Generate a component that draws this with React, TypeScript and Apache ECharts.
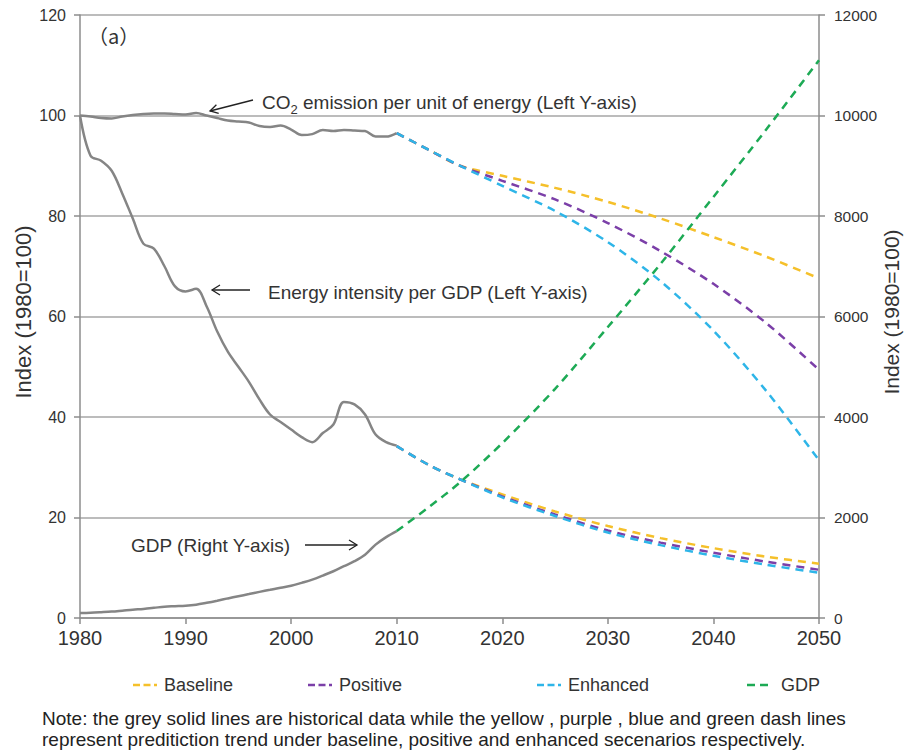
import React, { useEffect, useRef } from "react";
import * as echarts from "echarts";

const histYears = [1980, 1981, 1982, 1983, 1984, 1985, 1986, 1987, 1988, 1989, 1990, 1991, 1992, 1993, 1994, 1995, 1996, 1997, 1998, 1999, 2000, 2001, 2002, 2003, 2004, 2005, 2006, 2007, 2008, 2009, 2010];
const histCO2 = [100, 99.8, 99.5, 99.4, 99.8, 100.1, 100.3, 100.4, 100.4, 100.3, 100.2, 100.5, 100.0, 99.5, 99.0, 98.8, 98.6, 97.9, 97.7, 98.0, 97.2, 96.1, 96.3, 97.1, 96.9, 97.1, 97.0, 96.9, 95.8, 95.8, 96.5];
const histEI = [100, 92, 91, 89, 84.5, 79.5, 74.5, 73.5, 70, 66, 65, 65.5, 62, 57, 53, 50, 47, 43.5, 40.5, 39, 37.5, 36, 35, 36.8, 38.5, 43, 42.5, 40.5, 36.5, 35, 34.3];
const histGDP = [100, 105, 115, 127, 146, 166, 181, 202, 225, 234, 243, 265, 303, 345, 390, 433, 476, 520, 561, 604, 640, 700, 765, 845, 930, 1030, 1130, 1260, 1460, 1610, 1730];

const fcYears = [2010, 2013, 2016, 2020, 2025, 2030, 2035, 2040, 2045, 2050];
const co2Baseline = [96.5, 93.2, 90.0, 88.0, 85.6, 82.8, 79.5, 75.8, 71.9, 67.6];
const co2Positive = [96.5, 93.2, 90.0, 87.0, 83.3, 78.6, 73.0, 66.5, 58.7, 49.4];
const co2Enhanced = [96.5, 93.2, 90.0, 86.0, 81.0, 74.8, 67.0, 57.2, 45.2, 31.4];
const eiBaseline = [34.2, 30.5, 27.6, 24.6, 21.2, 18.3, 15.9, 13.9, 12.2, 10.8];
const eiPositive = [34.2, 30.5, 27.6, 24.2, 20.6, 17.4, 15.0, 13.0, 11.2, 9.6];
const eiEnhanced = [34.2, 30.5, 27.6, 24.0, 20.3, 17.0, 14.5, 12.4, 10.6, 9.0];
const gdpForecast = [1730, 2200, 2700, 3480, 4560, 5790, 7050, 8380, 9720, 11100];

const legendNames = ["Baseline", "Positive", "Enhanced", "GDP"];
const axisTitle = "Index (1980=100)";
const noteLines = [
  "Note: the grey solid lines are historical data while the yellow , purple , blue and green dash lines",
  "represent preditiction trend under baseline, positive and enhanced secenarios respectively.",
];

const FONT = "'Liberation Sans', Arial, sans-serif";
const C_BASE = "#F5C02A";
const C_POS = "#7B3FA8";
const C_ENH = "#2EB5E8";
const C_GDP = "#1DAA55";
const C_HIST = "#858585";
const TXT = "#333333";

const pairs = (xs: number[], ys: number[]) => xs.map((x, i) => [x, ys[i]]);

export default function App() {
  const ref = useRef<HTMLDivElement>(null);
  useEffect(() => {
    document.body.style.margin = "0";
    if (!ref.current) return;
    const chart = echarts.init(ref.current, null, { renderer: "svg" });
    const hist = (name: string, data: number[], axis: number) => ({
      name,
      type: "line",
      yAxisIndex: axis,
      data: pairs(histYears, data),
      symbol: "none",
      smooth: 0.35,
      lineStyle: { color: C_HIST, width: 2.5 },
      z: 3,
    });
    const fc = (name: string, data: number[], color: string, axis: number, z: number) => ({
      name,
      type: "line",
      yAxisIndex: axis,
      data: pairs(fcYears, data),
      symbol: "none",
      smooth: 0.3,
      itemStyle: { color },
      lineStyle: { color, width: 2.5, type: [8, 6] },
      z,
    });
    const legendLefts = [128, 303, 532, 742];
    const dashIcon = "path://M0,0h7v2.5h-7z M10.5,0h7v2.5h-7z M21,0h3v2.5h-3z";
    const gdpIcon = "path://M0,0h8v2.5h-8z M13,0h8v2.5h-8z";
    const arrowStyle = { stroke: "#222", lineWidth: 1.3, fill: null };
    const noComma = (v: number) => String(v);
    chart.setOption({
      animation: false,
      backgroundColor: "#ffffff",
      textStyle: { fontFamily: FONT },
      grid: { left: 80, right: 86, top: 15, height: 603, outerBoundsMode: "none", containLabel: false },
      xAxis: {
        type: "value",
        min: 1980,
        max: 2050,
        interval: 10,
        axisLine: { show: true, lineStyle: { color: "#8C8C8C", width: 1.5 } },
        axisTick: { show: true, length: 6, lineStyle: { color: "#8C8C8C", width: 1.5 } },
        axisLabel: { fontSize: 20, color: TXT, margin: 10, fontFamily: FONT, formatter: noComma },
        splitLine: { show: false },
      },
      yAxis: [
        {
          type: "value",
          min: 0,
          max: 120,
          interval: 20,
          axisLine: { show: true, lineStyle: { color: "#8C8C8C", width: 1.5 } },
          axisTick: { show: true, length: 6, lineStyle: { color: "#8C8C8C", width: 1.5 } },
          axisLabel: { fontSize: 16, color: TXT, margin: 14, fontFamily: FONT, formatter: noComma },
          splitLine: { show: true, lineStyle: { color: "#A6A6A6", width: 1.5 } },
        },
        {
          type: "value",
          min: 0,
          max: 12000,
          interval: 2000,
          position: "right",
          axisLine: { show: true, lineStyle: { color: "#8C8C8C", width: 1.5 } },
          axisTick: { show: true, length: 6, lineStyle: { color: "#8C8C8C", width: 1.5 } },
          axisLabel: { fontSize: 15.5, color: TXT, margin: 15, fontFamily: FONT, formatter: noComma },
          splitLine: { show: false },
        },
      ],
      legend: legendNames.map((n, i) => ({
        data: [n],
        left: legendLefts[i],
        top: 671,
        icon: i === 3 ? gdpIcon : dashIcon,
        itemWidth: i === 3 ? 21 : 24,
        itemHeight: 2.5,
        itemGap: 0,
        selectedMode: false,
        textStyle: { fontSize: 18, color: TXT, fontFamily: FONT, padding: [0, 0, 0, i === 3 ? 8 : 2] },
      })),
      series: [
        hist("CO2 history", histCO2, 0),
        hist("Energy intensity history", histEI, 0),
        hist("GDP history", histGDP, 1),
        fc("Baseline", co2Baseline, C_BASE, 0, 4),
        fc("Positive", co2Positive, C_POS, 0, 5),
        fc("Enhanced", co2Enhanced, C_ENH, 0, 6),
        fc("Baseline", eiBaseline, C_BASE, 0, 4),
        fc("Positive", eiPositive, C_POS, 0, 5),
        fc("Enhanced", eiEnhanced, C_ENH, 0, 6),
        fc("GDP", gdpForecast, C_GDP, 1, 7),
      ],
      graphic: [
        {
          type: "text",
          x: 23,
          y: 312,
          rotation: Math.PI / 2,
          style: { text: axisTitle, fontSize: 22, fill: TXT, fontFamily: FONT, align: "center", verticalAlign: "middle" },
        },
        {
          type: "text",
          x: 891,
          y: 312,
          rotation: Math.PI / 2,
          style: { text: axisTitle, fontSize: 21, fill: TXT, fontFamily: FONT, align: "center", verticalAlign: "middle" },
        },
        {
          type: "text",
          x: 88,
          y: 35,
          style: { text: "（a）", fontSize: 20, fill: TXT, fontFamily: "'Noto Sans CJK SC', sans-serif", verticalAlign: "middle" },
        },
        {
          type: "text",
          x: 262,
          y: 101,
          style: {
            text: "{m|CO}{s|2}{m| emission per unit of energy (Left Y-axis)}",
            verticalAlign: "middle",
            rich: {
              m: { fontSize: 19, fill: TXT, fontFamily: FONT, lineHeight: 22, verticalAlign: "bottom" },
              s: { fontSize: 13, fill: TXT, fontFamily: FONT, lineHeight: 16, verticalAlign: "bottom", padding: [0, 0, -4, 0] },
            },
          },
        },
        { type: "line", shape: { x1: 253, y1: 100, x2: 210, y2: 111 }, style: arrowStyle },
        { type: "polyline", shape: { points: [[216.4, 104.7], [210, 111], [218.7, 113.4]] }, style: arrowStyle },
        {
          type: "text",
          x: 268,
          y: 292,
          style: { text: "Energy intensity per GDP (Left Y-axis)", fontSize: 19, fill: TXT, fontFamily: FONT, verticalAlign: "middle" },
        },
        { type: "line", shape: { x1: 250, y1: 290, x2: 212, y2: 290 }, style: arrowStyle },
        { type: "polyline", shape: { points: [[220, 285], [212, 290], [220, 295]] }, style: arrowStyle },
        {
          type: "text",
          x: 131,
          y: 545,
          style: { text: "GDP (Right Y-axis)", fontSize: 19, fill: TXT, fontFamily: FONT, verticalAlign: "middle" },
        },
        { type: "line", shape: { x1: 305, y1: 545, x2: 357, y2: 545 }, style: arrowStyle },
        { type: "polyline", shape: { points: [[349, 540], [357, 545], [349, 550]] }, style: arrowStyle },
        {
          type: "text",
          x: 42,
          y: 718,
          style: { text: noteLines[0], fontSize: 19, fill: "#222", fontFamily: FONT, verticalAlign: "middle" },
        },
        {
          type: "text",
          x: 42,
          y: 739,
          style: { text: noteLines[1], fontSize: 19, fill: "#222", fontFamily: FONT, verticalAlign: "middle" },
        },
      ],
    });
    return () => chart.dispose();
  }, []);
  return <div ref={ref} style={{ width: 905, height: 755 }} />;
}
